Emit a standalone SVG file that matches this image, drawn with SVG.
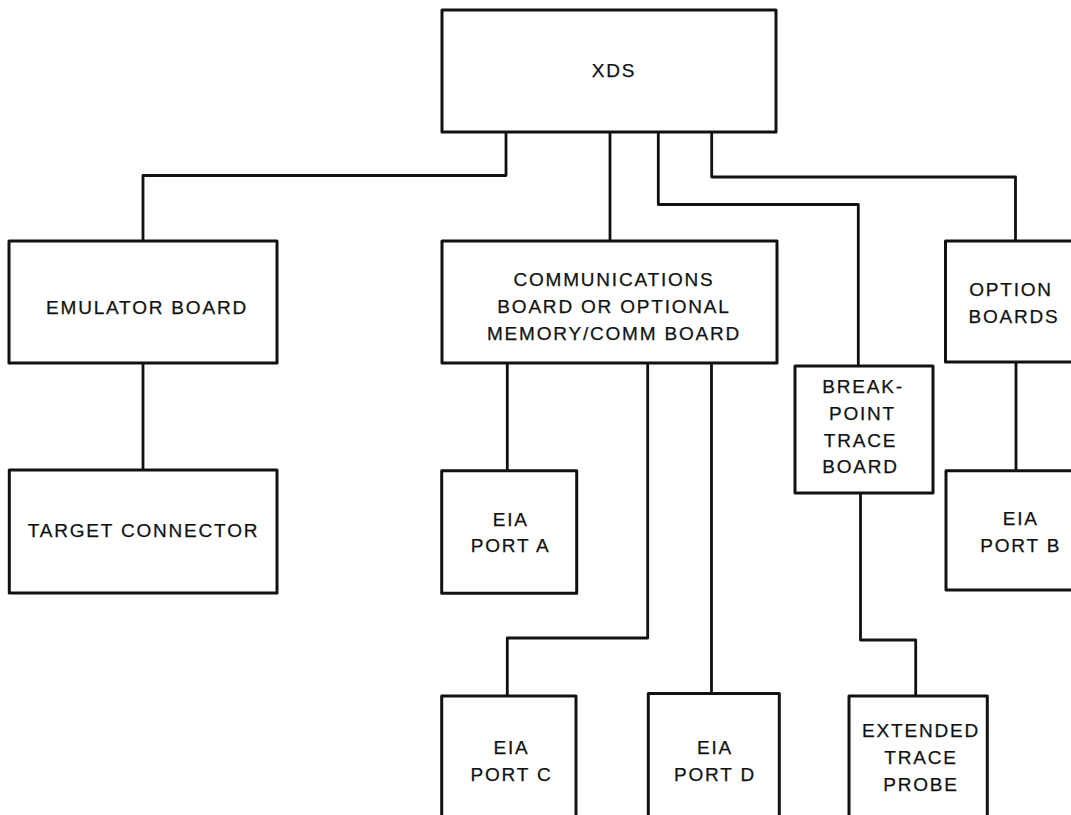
<svg xmlns="http://www.w3.org/2000/svg" width="1071" height="815" viewBox="0 0 1071 815">
<style>
.box{fill:#fff;stroke:#111;stroke-width:3;stroke-linejoin:round}
.wire{fill:none;stroke:#111;stroke-width:2.8;stroke-linejoin:round}
text{font-family:"Liberation Sans",Arial,sans-serif;font-size:19px;letter-spacing:1.8px;fill:#111;stroke:#111;stroke-width:0.25;text-anchor:middle}
</style>
<rect width="1071" height="815" fill="#fff"/>
<g id="connectors">
<path class="wire" d="M506 132 V175.5 H143 V241"/>
<path class="wire" d="M610 132 V241"/>
<path class="wire" d="M658.3 132 V204.5 H858.3 V366"/>
<path class="wire" d="M711.7 132 V177 H1015.5 V241"/>
<path class="wire" d="M143 363 V470"/>
<path class="wire" d="M507.3 363 V471"/>
<path class="wire" d="M647.7 363 V638 H507.3 V696"/>
<path class="wire" d="M711.5 363 V693.5"/>
<path class="wire" d="M1016 362 V471"/>
<path class="wire" d="M860.5 493 V640 H915.7 V696"/>
</g>
<g id="xds">
<rect class="box" x="442" y="10" width="334" height="122"/>
<text x="614" y="77.3">XDS</text>
</g>
<g id="emulator">
<rect class="box" x="9" y="241" width="268" height="122"/>
<text x="147" y="314">EMULATOR BOARD</text>
</g>
<g id="comm">
<rect class="box" x="442" y="241" width="335" height="122"/>
<text x="614" y="285.7">COMMUNICATIONS</text>
<text x="614" y="312.7">BOARD OR OPTIONAL</text>
<text x="614" y="340">MEMORY/COMM BOARD</text>
</g>
<g id="option">
<rect class="box" x="945.5" y="241" width="150" height="121"/>
<text x="1011" y="296">OPTION</text>
<text x="1014" y="322.7">BOARDS</text>
</g>
<g id="breakpoint">
<rect class="box" x="795" y="366" width="138" height="127"/>
<text x="863" y="393.3">BREAK-</text>
<text x="862.5" y="420">POINT</text>
<text x="860.5" y="447.3">TRACE</text>
<text x="860.5" y="473.3">BOARD</text>
</g>
<g id="target">
<rect class="box" x="9.3" y="470" width="267.7" height="123"/>
<text x="143.5" y="537.3">TARGET CONNECTOR</text>
</g>
<g id="porta">
<rect class="box" x="441.7" y="470.7" width="135" height="122.6"/>
<text x="510.7" y="526">EIA</text>
<text x="510.7" y="552.3">PORT A</text>
</g>
<g id="portb">
<rect class="box" x="946" y="470.7" width="150" height="119.3"/>
<text x="1020.7" y="525">EIA</text>
<text x="1020.7" y="551.7">PORT B</text>
</g>
<g id="portc">
<rect class="box" x="441.7" y="696" width="134.3" height="130"/>
<text x="511.5" y="754">EIA</text>
<text x="511.5" y="780.7">PORT C</text>
</g>
<g id="portd">
<rect class="box" x="648.3" y="693.5" width="131" height="132"/>
<text x="715" y="754">EIA</text>
<text x="715" y="780.7">PORT D</text>
</g>
<g id="extended">
<rect class="box" x="849" y="696" width="138.3" height="130"/>
<text x="921" y="737.3">EXTENDED</text>
<text x="921" y="764">TRACE</text>
<text x="921" y="790.7">PROBE</text>
</g>
</svg>
